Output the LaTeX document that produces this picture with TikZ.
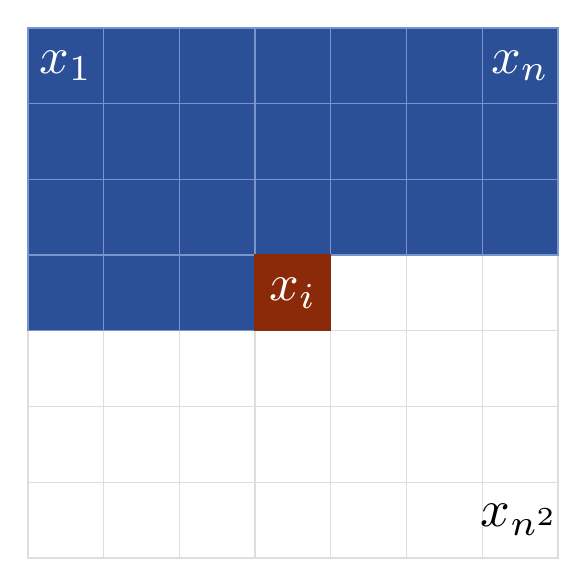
\documentclass[tikz,border=0pt]{standalone}
\usepackage{graphicx}
\definecolor{cellblue}{RGB}{43,80,152}
\definecolor{cellred}{RGB}{138,42,8}
\definecolor{blueline}{RGB}{120,150,205}
\definecolor{greyline}{RGB}{222,222,222}
\newcommand{\biglbl}[1]{\scalebox{5.2}{$#1$}}
\tikzset{
  cellbase/.style={rectangle, minimum width=75.7pt, minimum height=75.7pt, inner sep=0pt, outer sep=0pt, line width=1.3pt},
  bluecell/.style={cellbase, fill=cellblue, draw=blueline},
  whitecell/.style={cellbase, fill=white, draw=greyline},
  redcell/.style={cellbase, fill=cellred, draw=cellred},
  lbl/.style={inner sep=0pt}
}
\begin{document}
\begin{tikzpicture}[x=1pt,y=-1pt]
\useasboundingbox (0,0) rectangle (578,571);
\fill[white] (0,0) rectangle (578,571);
\foreach \r in {0,...,6}{
  \foreach \c in {0,...,6}{
    \pgfmathtruncatemacro{\idx}{\r*7+\c}
    \ifnum\idx<24
      \node[bluecell] (cell-\r-\c) at ({28+75.7*(\c+0.5)},{28+75.7*(\r+0.5)}) {};
    \else
      \node[whitecell] (cell-\r-\c) at ({28+75.7*(\c+0.5)},{28+75.7*(\r+0.5)}) {};
    \fi
  }
}
\foreach \r in {0,...,6}{
  \foreach \c in {0,...,6}{
    \pgfmathtruncatemacro{\idx}{\r*7+\c}
    \ifnum\idx<24
      \node[bluecell] (bcell-\r-\c) at ({28+75.7*(\c+0.5)},{28+75.7*(\r+0.5)}) {};
    \fi
  }
}
\node[redcell] (xi) at (cell-3-3) {};
\node[lbl, text=white] (l1) at (cell-0-0) {\biglbl{x_1}};
\node[lbl, text=white] (ln) at (cell-0-6) {\biglbl{x_n}};
\node[lbl, text=white] (li) at (xi) {\biglbl{x_i}};
\node[lbl, text=black] (ln2) at (cell-6-6) {\biglbl{x_{n^2}}};
\end{tikzpicture}
\end{document}
